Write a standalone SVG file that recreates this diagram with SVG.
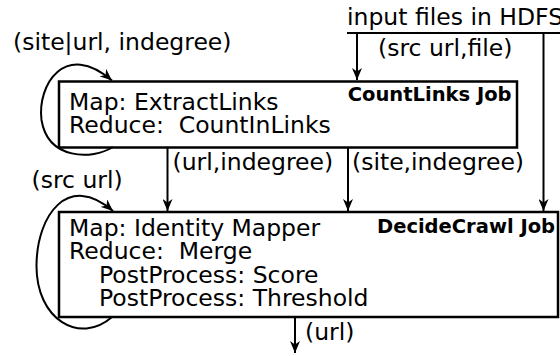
<svg xmlns="http://www.w3.org/2000/svg" width="560" height="356" viewBox="0 0 560 356">
  <style>
    .box { fill: #ffffff; stroke: #000000; stroke-width: 2.5; }
    .wire { fill: none; stroke: #000000; stroke-width: 2; }
    .arrow { fill: none; stroke: #000000; stroke-width: 2; marker-end: url(#head); }
    text { font-family: "DejaVu Sans", "Liberation Sans", sans-serif; font-size: 23.5px; fill: #000000; }
    .job { font-weight: bold; font-size: 19.5px; text-anchor: end; }
  </style>
  <defs>
    <marker id="head" viewBox="0 0 12 10" refX="12" refY="5" markerWidth="12" markerHeight="10" markerUnits="userSpaceOnUse" orient="auto">
      <path d="M0,0 L12,5 L0,10 L3.5,5 Z" fill="#000000"/>
    </marker>
  </defs>

  <rect width="560" height="356" fill="#ffffff"/>

  <!-- HDFS input source -->
  <g id="hdfs-input">
    <text x="347" y="24.5">input files in HDFS</text>
  </g>

  <!-- CountLinks job -->
  <g id="countlinks-job">
    <rect class="box" x="59" y="81.5" width="458" height="66"/>
    <text x="69" y="109.5">Map: ExtractLinks</text>
    <text x="69" y="132.5" xml:space="preserve">Reduce:  CountInLinks</text>
    <text class="job" x="511.5" y="100.5">CountLinks Job</text>
  </g>

  <!-- DecideCrawl job -->
  <g id="decidecrawl-job">
    <rect class="box" x="59" y="212" width="499" height="105"/>
    <text x="69" y="235.5">Map: Identity Mapper</text>
    <text x="69" y="259" xml:space="preserve">Reduce:  Merge</text>
    <text x="99" y="282.5">PostProcess: Score</text>
    <text x="99" y="306">PostProcess: Threshold</text>
    <text class="job" x="555" y="233">DecideCrawl Job</text>
  </g>

  <!-- connectors and their labels -->
  <g id="connectors">
    <line class="wire" x1="347" y1="33" x2="560" y2="33"/>
    <line class="arrow" x1="357" y1="33" x2="357" y2="80"/>
    <line class="arrow" x1="543.5" y1="33" x2="543.5" y2="211"/>
    <text x="378" y="55.5">(src url,file)</text>

    <path class="arrow" d="M113,147 C92,160 48,160 41.5,120 C37,85 65,40 112,80.5"/>
    <text x="13" y="49.5">(site|url, indegree)</text>

    <line class="arrow" x1="167.5" y1="148" x2="167.5" y2="211"/>
    <text x="172.5" y="169.5">(url,indegree)</text>
    <line class="arrow" x1="348" y1="148" x2="348" y2="211"/>
    <text x="352" y="169.5">(site,indegree)</text>

    <path class="arrow" d="M112,317 C80,345 36,320 36.5,265 C37,215 68,172 113,211"/>
    <text x="31.5" y="188">(src url)</text>

    <line class="arrow" x1="295" y1="318" x2="295" y2="353"/>
    <text x="305" y="339.5">(url)</text>
  </g>
</svg>
